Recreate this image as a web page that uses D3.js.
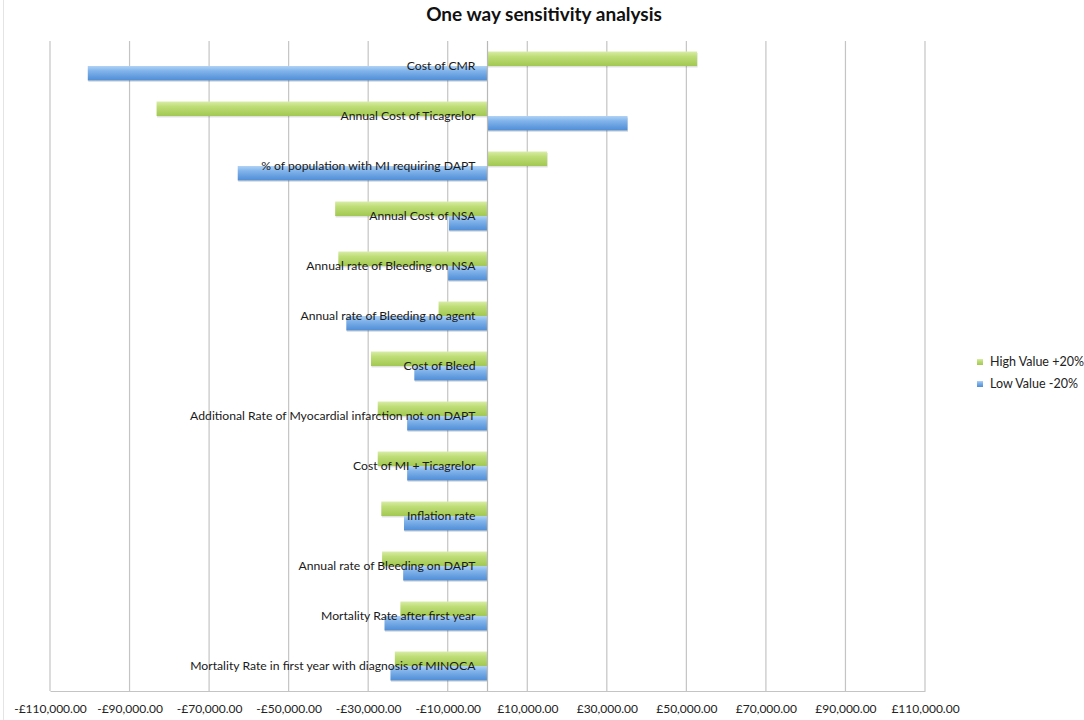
<!DOCTYPE html>
<html>
<head>
<meta charset="utf-8">
<title>One way sensitivity analysis</title>
<script src="https://cdn.jsdelivr.net/npm/d3@7"></script>
<style>
  body { margin: 0; background: #fff; }
  svg { font-family: Lato, "Open Sans", sans-serif; }
</style>
</head>
<body>
<svg id="chart" width="1084" height="720"></svg>
<script>
// parameters, top to bottom
const categories = [
  "Cost of CMR",
  "Annual Cost of Ticagrelor",
  "% of population with MI requiring DAPT",
  "Annual Cost of NSA",
  "Annual rate of Bleeding on NSA",
  "Annual rate of Bleeding no agent",
  "Cost of Bleed",
  "Additional Rate of Myocardial infarction not on DAPT",
  "Cost of MI + Ticagrelor",
  "Inflation rate",
  "Annual rate of Bleeding on DAPT",
  "Mortality Rate after first year",
  "Mortality Rate in first year with diagnosis of MINOCA"
];
const highValues = [52700, -83200, 15000, -38300, -37500, -12300, -29300, -27600, -27600, -26700, -26500, -21900, -23300];
const lowValues = [-100500, 35200, -62800, -9700, -9900, -35500, -18400, -20200, -20200, -21000, -21200, -25900, -24400];
const seriesNames = ["High Value +20%", "Low Value -20%"];
const tickValues = [-110000, -90000, -70000, -50000, -30000, -10000, 10000, 30000, 50000, 70000, 90000, 110000];

const svg = d3.select("#chart");
const plotLeft = 50, plotRight = 925, plotTop = 41, plotBottom = 691;

const x = d3.scaleLinear().domain([-110000, 110000]).range([plotLeft, plotRight]);
const y = d3.scaleBand().domain(categories).range([plotTop, plotBottom])
  .paddingInner(0.42).paddingOuter(0.21);
const ySub = d3.scaleBand().domain([0, 1]).range([0, y.bandwidth()]);

// gradients for the bars
const defs = svg.append("defs");
function gradient(id, stops) {
  const g = defs.append("linearGradient").attr("id", id)
    .attr("x1", 0).attr("y1", 0).attr("x2", 0).attr("y2", 1);
  stops.forEach(function(s) {
    g.append("stop").attr("offset", s[0]).attr("stop-color", s[1]);
  });
}
gradient("gGreen", [[0, "#d9eda6"], [0.35, "#bedd77"], [1, "#a2c851"]]);
gradient("gBlue", [[0, "#b0d2f6"], [0.35, "#80b3ea"], [1, "#4e8dd6"]]);
const fills = ["url(#gGreen)", "url(#gBlue)"];

// chart border on the left
svg.append("line").attr("x1", 3.5).attr("x2", 3.5).attr("y1", 0).attr("y2", 720)
  .attr("stroke", "#e4e4e4");

// title
svg.append("text").attr("x", 544).attr("y", 21).attr("text-anchor", "middle")
  .attr("font-weight", "bold").attr("font-size", 19).attr("fill", "#111")
  .text("One way sensitivity analysis");

// gridlines
svg.append("g").selectAll("line").data(tickValues).join("line")
  .attr("x1", d => x(d)).attr("x2", d => x(d))
  .attr("y1", plotTop).attr("y2", plotBottom)
  .attr("stroke", "#c4c4c4").attr("stroke-width", 1.2);

// x axis
const xAxis = d3.axisBottom(x).tickValues(tickValues).tickSize(0).tickPadding(13)
  .tickFormat(d => (d < 0 ? "-£" : "£") + d3.format(",.2f")(Math.abs(d)));
const ax = svg.append("g").attr("transform", "translate(0," + plotBottom + ")").call(xAxis);
ax.select(".domain").attr("stroke", "#c4c4c4").attr("stroke-width", 1.2);
ax.selectAll("text").attr("font-family", "Lato, sans-serif").attr("font-size", 12).attr("fill", "#222");

// bars
const rows = categories.map((c, i) => ({ cat: c, vals: [highValues[i], lowValues[i]] }));
const groups = svg.append("g").selectAll("g").data(rows).join("g")
  .attr("transform", d => "translate(0," + y(d.cat) + ")");

groups.selectAll("rect.shadow").data(d => d.vals).join("rect")
  .attr("class", "shadow")
  .attr("x", d => Math.min(x(0), x(d)) + 0.5)
  .attr("y", (d, i) => ySub(i) + 1.5)
  .attr("width", d => Math.abs(x(d) - x(0)))
  .attr("height", ySub.bandwidth())
  .attr("fill", "#000").attr("opacity", 0.12);

groups.selectAll("rect.bar").data(d => d.vals).join("rect")
  .attr("class", "bar")
  .attr("x", d => Math.min(x(0), x(d)))
  .attr("y", (d, i) => ySub(i))
  .attr("width", d => Math.abs(x(d) - x(0)))
  .attr("height", ySub.bandwidth())
  .attr("fill", (d, i) => fills[i]);

// zero axis
svg.append("line").attr("x1", x(0)).attr("x2", x(0)).attr("y1", plotTop).attr("y2", plotBottom)
  .attr("stroke", "#b8b8b8").attr("stroke-width", 1.2);

// category labels next to the axis
svg.append("g").selectAll("text").data(categories).join("text")
  .attr("x", x(0) - 12)
  .attr("y", d => y(d) + y.bandwidth() / 2)
  .attr("dy", "0.35em")
  .attr("text-anchor", "end")
  .attr("font-size", 12.2).attr("fill", "#1a1a1a")
  .text(d => d);

// legend
const legend = svg.append("g").selectAll("g").data(seriesNames).join("g")
  .attr("transform", (d, i) => "translate(977," + (362 + i * 22) + ")");
legend.append("rect").attr("x", 0).attr("y", -3).attr("width", 6).attr("height", 6)
  .attr("fill", (d, i) => fills[i]);
legend.append("text").attr("x", 13).attr("dy", "0.35em")
  .attr("font-size", 12.5).attr("fill", "#222").text(d => d);
</script>
</body>
</html>
